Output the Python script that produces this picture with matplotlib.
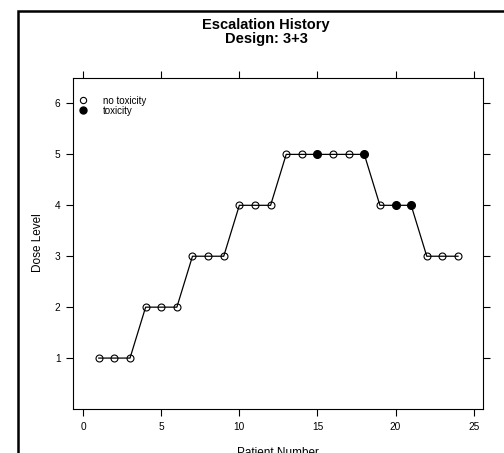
import matplotlib
matplotlib.use('Agg')
import matplotlib.pyplot as plt
from matplotlib.patches import Rectangle
import numpy as np

plt.rcParams['font.family'] = ['Liberation Sans', 'DejaVu Sans']

# 3+3 escalation: dose given to each patient, and whether a toxicity was seen
patients = list(range(1, 25))
dose = [1, 1, 1, 2, 2, 2, 3, 3, 3, 4, 4, 4, 5, 5, 5, 5, 5, 5, 4, 4, 4, 3, 3, 3]
toxicity = [0, 0, 0, 0, 0, 0, 0, 0, 0, 0, 0, 0, 0, 0, 1, 0, 0, 1, 0, 1, 1, 0, 0, 0]

x_ticks = [0, 5, 10, 15, 20, 25]
y_ticks = [1, 2, 3, 4, 5, 6]

W, H = 504, 453
fig = plt.figure(figsize=(W / 100, H / 100), dpi=100)
ax = fig.add_axes([73 / W, 1 - 409 / H, (483 - 73) / W, (409 - 78) / H])

# outer frame of the page, runs off the right and bottom edges
fig.patches.append(Rectangle((18 / W, -0.1), 1.2, 1 - 10.5 / H + 0.1,
                             transform=fig.transFigure, fill=False,
                             edgecolor='black', linewidth=1.8, zorder=10))

px = np.array(patients)
dy = np.array(dose)
tox = np.array(toxicity, dtype=bool)

ax.plot(px, dy, color='black', linewidth=0.9, zorder=2)
ax.plot(px[~tox], dy[~tox], linestyle='none', marker='o', markersize=5,
        markerfacecolor='none', markeredgecolor='black', markeredgewidth=0.8, zorder=3)
ax.plot(px[tox], dy[tox], linestyle='none', marker='o', markersize=5.5,
        markerfacecolor='black', markeredgecolor='black', zorder=3)

ax.set_xlim(-0.65, 25.6)
ax.set_ylim(0, 6.5)
ax.set_xticks(x_ticks)
ax.set_yticks(y_ticks)
ax.tick_params(direction='out', length=5, width=0.8, labelsize=7.3,
               top=True, right=True, labeltop=False, labelright=False, pad=4)
for s in ax.spines.values():
    s.set_linewidth(0.8)

# legend, drawn by hand in axes fractions
ah = 409 - 78
lx = (83 - 73) / (483 - 73)
tx = (103 - 73) / (483 - 73)
ax.plot(lx, 1 - (100 - 78) / ah, transform=ax.transAxes, marker='o',
        markersize=4.5, markerfacecolor='none', markeredgecolor='black',
        markeredgewidth=0.8, clip_on=False)
ax.plot(lx, 1 - (110 - 78) / ah, transform=ax.transAxes, marker='o',
        markersize=5, markerfacecolor='black', markeredgecolor='black', clip_on=False)
ax.text(tx, 1 - (101 - 78) / ah, 'no toxicity', transform=ax.transAxes,
        fontsize=7, va='center', ha='left')
ax.text(tx, 1 - (111 - 78) / ah, 'toxicity', transform=ax.transAxes,
        fontsize=7, va='center', ha='left')

fig.text(266 / W, 1 - 24.5 / H, 'Escalation History', ha='center',
         va='center', fontsize=10.5, fontweight='bold')
fig.text(266 / W, 1 - 38.5 / H, 'Design: 3+3', ha='center',
         va='center', fontsize=10.5, fontweight='bold')
fig.text(38 / W, 1 - 243 / H, 'Dose Level', rotation=90, ha='center',
         va='center', fontsize=8.5)
fig.text(278 / W, 1 - 453 / H, 'Patient Number', ha='center', va='center',
         fontsize=8.5)

fig.savefig('out.png', dpi=100)
